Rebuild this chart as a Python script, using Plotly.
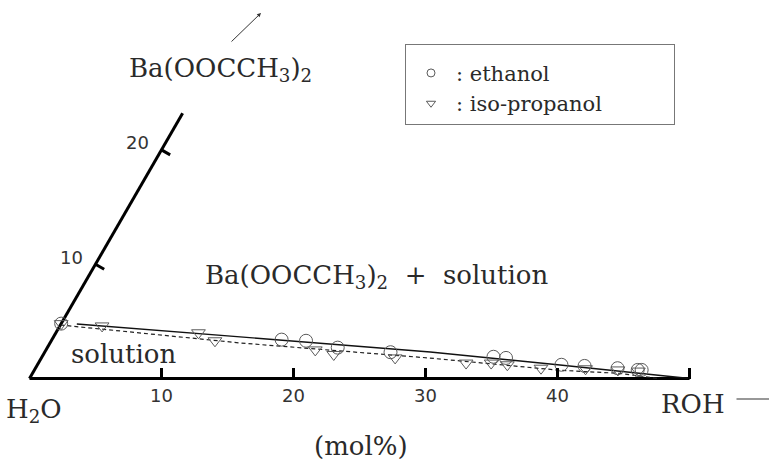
import math
import plotly.graph_objects as go

# ---------------- data (mol% of ROH, mol% of Ba(OOCCH3)2) ----------------
eth_roh = [0.0, 17.4, 19.3, 22.0, 26.2, 34.2, 35.2, 39.7, 41.5, 44.1, 45.7, 46.0]
eth_ba = [4.8, 3.4, 3.3, 2.7, 2.3, 1.9, 1.8, 1.2, 1.1, 0.9, 0.75, 0.75]

ipa_roh = [0.0, 3.2, 10.8, 12.4, 20.4, 22.0, 26.8, 32.4, 34.3, 35.6, 38.3, 41.7, 44.2, 45.8]
ipa_ba = [4.8, 4.6, 4.0, 3.3, 2.5, 2.1, 1.8, 1.35, 1.35, 1.2, 0.9, 0.85, 0.75, 0.65]

# solubility curves
eth_fit_roh = [1.2, 14.1, 29.2, 39.6, 50.0]
eth_fit_ba = [4.77, 3.63, 2.32, 1.18, 0.0]
ipa_fit_roh = [0.0, 14.4, 29.4, 39.8, 44.5, 47.6]
ipa_fit_ba = [4.68, 3.11, 1.79, 0.72, 0.45, 0.0]

# axes
roh_ticks = [10, 20, 30, 40, 50]
roh_ticktext = ["10", "20", "30", "40", " "]
roh_axis_max = 50
ba_ticks = [10, 20]
ba_axis_max = 23.2

# ---------------- geometry ----------------
W, H = 770, 461
S = 13.2              # px per mol%
X0, Y0 = 29.5, 378.5  # pixel position of the H2O corner
SIN60 = math.sqrt(3) / 2


def tri(r, b):
    """ternary (ROH, Ba) -> cartesian units of the equilateral diagram"""
    xs = [ri + bi * 0.5 for ri, bi in zip(r, b)]
    ys = [bi * SIN60 for bi in b]
    return xs, ys


def px(x, y):
    return x / W, 1 - y / H


SERIF = "DejaVu Serif"
SANS = "DejaVu Sans"
INK = "#2a2a2a"
MK = "#5a5a5a"

fig = go.Figure()

# base axis line (H2O -> ROH)
bx, by = tri([0, roh_axis_max], [0, 0])
fig.add_trace(go.Scatter(x=bx, y=by, mode="lines", line=dict(color="black", width=3),
                         showlegend=False, hoverinfo="skip"))
# slanted Ba(OOCCH3)2 axis
sx, sy = tri([0, 0], [0, ba_axis_max])
fig.add_trace(go.Scatter(x=sx, y=sy, mode="lines", line=dict(color="black", width=3),
                         showlegend=False, hoverinfo="skip"))
# ticks on slanted axis (perpendicular, pointing into the diagram)
tl = 10 / S
for b in ba_ticks:
    tx, ty = tri([0], [b])
    fig.add_trace(go.Scatter(x=[tx[0], tx[0] + tl * SIN60], y=[ty[0], ty[0] - tl * 0.5],
                             mode="lines", line=dict(color="black", width=3),
                             showlegend=False, hoverinfo="skip"))
    fig.add_annotation(x=tx[0], y=ty[0], xref="x", yref="y", text=str(b), showarrow=False,
                       xanchor="right", yanchor="middle", xshift=-11, yshift=7,
                       font=dict(family=SANS, size=18, color="#333"))

# fitted curves
fx, fy = tri(eth_fit_roh, eth_fit_ba)
fig.add_trace(go.Scatter(x=fx, y=fy, mode="lines", line=dict(color="#111", width=1.4),
                         showlegend=False, hoverinfo="skip"))
gx, gy = tri(ipa_fit_roh, ipa_fit_ba)
fig.add_trace(go.Scatter(x=gx, y=gy, mode="lines",
                         line=dict(color="#222", width=1.2, dash="4px,3px"),
                         showlegend=False, hoverinfo="skip"))

# data points
ex, ey = tri(eth_roh, eth_ba)
fig.add_trace(go.Scatter(x=ex, y=ey, mode="markers", showlegend=False,
                         marker=dict(symbol="circle-open", size=13,
                                     line=dict(color=MK, width=1), color=MK)))
ix, iy = tri(ipa_roh, ipa_ba)
fig.add_trace(go.Scatter(x=ix, y=iy, mode="markers", showlegend=False,
                         marker=dict(symbol="triangle-down-open", size=12,
                                     line=dict(color=MK, width=1), color=MK)))

# legend entries
fig.add_trace(go.Scatter(x=[None], y=[None], mode="markers",
                         name=":&nbsp;ethanol" + "&nbsp;" * 10,
                         marker=dict(symbol="circle-open", size=8, color=MK,
                                     line=dict(color=MK, width=1))))
fig.add_trace(go.Scatter(x=[None], y=[None], mode="markers",
                         name=":&nbsp;iso-propanol" + "&nbsp;" * 10,
                         marker=dict(symbol="triangle-down-open", size=8, color=MK,
                                     line=dict(color=MK, width=1))))

# ---------------- labels ----------------
def label(text, x, y, size=26, xanchor="center", yanchor="middle", family=SERIF):
    ax_, ay_ = px(x, y)
    fig.add_annotation(x=ax_, y=ay_, xref="paper", yref="paper", text=text, showarrow=False,
                       xanchor=xanchor, yanchor=yanchor,
                       font=dict(family=family, size=size, color=INK))

label("Ba(OOCCH<sub>3</sub>)<sub>2</sub>", 220, 70)
label("Ba(OOCCH<sub>3</sub>)<sub>2</sub>  +  solution", 376, 276)
label("solution", 123, 354)
label("H<sub>2</sub>O", 34, 410)
label("ROH", 693, 404)
label("(mol%)", 361, 446)

# arrow above the Ba(OOCCH3)2 label
hx, hy = px(261, 13)
fig.add_annotation(x=hx, y=hy, xref="paper", yref="paper", text="", showarrow=True,
                   ax=-31, ay=30, arrowhead=2, arrowsize=0.8, arrowwidth=1, arrowcolor="#333")
# arrow after ROH (head beyond the right edge)
rx, ry = px(800, 399)
fig.add_annotation(x=rx, y=ry, xref="paper", yref="paper", text="", showarrow=True,
                   ax=-65, ay=0, arrowhead=0, arrowwidth=1.2, arrowcolor="#333")

fig.update_layout(
    width=W, height=H,
    margin=dict(l=0, r=0, t=0, b=0),
    paper_bgcolor="white", plot_bgcolor="white",
    showlegend=True,
    legend=dict(x=405 / W, y=1 - 44 / H, xanchor="left", yanchor="top",
                bordercolor="#777", borderwidth=1, bgcolor="white",
                font=dict(family=SERIF, size=21, color=INK),
                title=dict(text="&nbsp;", font=dict(size=6)),
                itemwidth=40),
    xaxis=dict(range=[-X0 / S, (W - X0) / S], showgrid=False, zeroline=False,
               showline=False, anchor="free", position=(H - Y0) / H,
               ticks="inside", ticklen=11, tickwidth=3, tickcolor="black",
               tickvals=roh_ticks, ticktext=roh_ticktext, ticklabelstandoff=4,
               tickfont=dict(family=SANS, size=18, color="#333")),
    yaxis=dict(range=[-(H - Y0) / S, Y0 / S], visible=False),
)

fig.write_html("out.html")
